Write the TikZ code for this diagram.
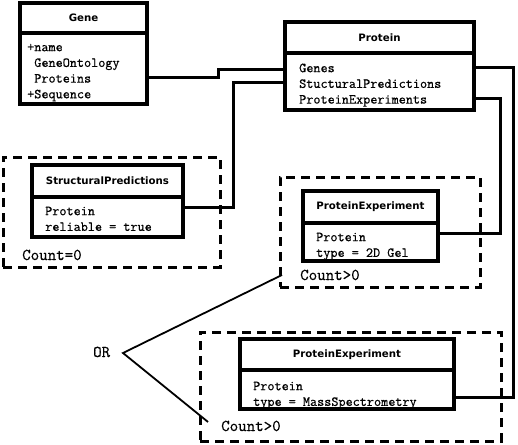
\documentclass[tikz,border=0pt]{standalone}
\usepackage{fontspec}
\newfontfamily\hdrfont{DejaVu Sans}
\newfontfamily\monoft{Latin Modern Mono}[FakeBold=0.6]
\begin{document}
\begin{tikzpicture}[x=1pt,y=-1pt,
  hdr/.style={draw,line width=3.5pt,fill=white,inner sep=0pt,
    font=\hdrfont\bfseries\fontsize{10.2}{12}\selectfont},
  body/.style={draw,line width=3.5pt,fill=white,inner sep=0pt},
  btext/.style={anchor=north west,inner sep=0pt,align=left,
    font=\monoft\fontsize{13.8}{15.7}\selectfont},
  group/.style={draw,line width=3pt,dash pattern=on 9pt off 6pt,inner sep=0pt},
  conn/.style={line width=3pt},
  orline/.style={line width=1.8pt},
  lbl/.style={inner sep=0pt,anchor=base west,font=\monoft\fontsize{16.5}{18}\selectfont}
]
\useasboundingbox (0,0) rectangle (518,444);

% dashed groups
\node[group,minimum width=217,minimum height=110] (d1) at (111.5,212) {};
\node[group,minimum width=200,minimum height=110] (d2) at (380,232) {};
\node[group,minimum width=301,minimum height=109] (d3) at (350.5,386.5) {};

% Gene
\node[hdr,minimum width=127,minimum height=30] (geneh) at (83.5,18) {Gene};
\node[body,minimum width=127,minimum height=71] (gene) at (83.5,68.5) {};
\node[btext] (genet) at (27,40)
  {\rule{0pt}{11pt}+name\\\ GeneOntology\\\ Proteins\\+Sequence};

% Protein
\node[hdr,minimum width=189,minimum height=31] (proth) at (379.5,37.5) {Protein};
\node[body,minimum width=189,minimum height=57] (prot) at (379.5,81.5) {};
\node[btext] (prott) at (299,61)
  {\rule{0pt}{11pt}Genes\\StucturalPredictions\\ProteinExperiments};

% StructuralPredictions
\node[hdr,minimum width=151,minimum height=32] (sph) at (107.5,181) {StructuralPredictions};
\node[body,minimum width=151,minimum height=40] (sp) at (107.5,217) {};
\node[btext] (spt) at (45,204) {\rule{0pt}{11pt}Protein\\reliable = true};

% ProteinExperiment 2D Gel
\node[hdr,minimum width=135,minimum height=32] (pe1h) at (370.5,207) {ProteinExperiment};
\node[body,minimum width=135,minimum height=38] (pe1) at (370.5,242) {};
\node[btext] (pe1t) at (316,230) {\rule{0pt}{11pt}Protein\\type = 2D Gel};

% ProteinExperiment MassSpectrometry
\node[hdr,minimum width=214,minimum height=31] (pe2h) at (347,354.5) {ProteinExperiment};
\node[body,minimum width=214,minimum height=39] (pe2) at (347,389.5) {};
\node[btext] (pe2t) at (253,379) {\rule{0pt}{11pt}Protein\\type = MassSpectrometry};

% labels
\node[lbl] (c1) at (22,260) {Count=0};
\node[lbl] (c2) at (300,280) {Count>0};
\node[lbl] (c3) at (221,431) {Count>0};
\node[lbl] (or) at (93,357) {OR};
\coordinate (orv) at (123,353);

% connectors
\draw[conn] (gene.east |- 0,77) -- (218,77) -- (218,69) -- (prot.west |- 0,69);
\draw[conn] (prot.west |- 0,82) -- (233,82) -- (233,207) -- (sp.east |- 0,207);
\draw[conn] (prot.east |- 0,67) -- (513,67) -- (513,397) -- (pe2.east |- 0,397);
\draw[conn] (prot.east |- 0,98) -- (500,98) -- (500,233) -- (pe1.east |- 0,233);

\draw[orline] ([xshift=-18pt]c2.west) -- (orv) -- ([xshift=-13pt,yshift=4pt]c3.west);
\end{tikzpicture}
\end{document}
